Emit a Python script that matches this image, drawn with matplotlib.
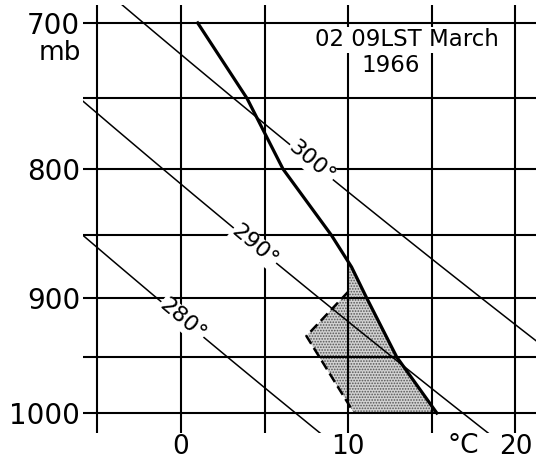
import numpy as np
import matplotlib
matplotlib.use('Agg')
import matplotlib.pyplot as plt
from matplotlib.ticker import NullLocator, NullFormatter

plt.rcParams['font.family'] = ['DejaVu Sans']
plt.rcParams['hatch.linewidth'] = 0.8

# grid levels
p_grid = [700, 750, 800, 850, 900, 950, 1000]
t_grid = [-5, 0, 5, 10, 15, 20]
p_ticks = [700, 800, 900, 1000]
p_tick_labels = ['700', '800', '900', '1000']
t_ticks = [0, 10, 20]
t_tick_labels = ['0', '10', '20']

# dry adiabats (K) and where their labels sit (mb)
thetas = [280, 290, 300]
theta_label_p = [918, 858, 795]
theta_labels = ['280°', '290°', '300°']

# temperature sounding, 02 March 1966 09LST
sound_p = [700, 750, 800, 850, 875, 900, 950, 1000]
sound_t = [1.0, 3.95, 6.1, 9.0, 10.2, 11.1, 12.9, 15.3]

# dashed boundary of the stippled area
dash_p = [895, 932, 1000]
dash_t = [10.0, 7.5, 10.35]

# stippled area
shade_p = [871, 875, 900, 950, 1000, 1000, 932, 895]
shade_t = [10.0, 10.2, 11.1, 12.9, 15.3, 10.35, 7.5, 10.0]

W, H = 546, 461
fig = plt.figure(figsize=(W / 100, H / 100), dpi=100)
# axes box in pixels: x 83..536, y 5..433
ax = fig.add_axes([83 / W, 1 - 433 / H, (536 - 83) / W, (433 - 5) / H])
ax.set_yscale('log')
ax.set_xlim(-5.86, 21.23)
ax.set_ylim(1018.4, 688.6)

for s in ax.spines.values():
    s.set_visible(False)

ax.yaxis.set_minor_locator(NullLocator())
ax.yaxis.set_minor_formatter(NullFormatter())
ax.set_yticks(p_ticks)
ax.set_yticklabels(p_tick_labels, fontsize=20)
ax.set_xticks(t_ticks)
ax.set_xticklabels(t_tick_labels, fontsize=19)
ax.tick_params(axis='y', length=0, pad=2)
ax.tick_params(axis='x', length=0, pad=1)

# grid
for p in p_grid:
    ax.axhline(p, color='black', lw=1.5, zorder=1)
for t in t_grid:
    ax.axvline(t, color='black', lw=1.5, zorder=1)

# stipple
ax.fill(shade_t, shade_p, facecolor='#d2d2d2', hatch='......',
        edgecolor='#555555', linewidth=0, zorder=0.5)

# dry adiabats
pp = np.linspace(680, 1030, 200)
for th, lp, lab in zip(thetas, theta_label_p, theta_labels):
    tt = th * (pp / 1000.0) ** 0.286 - 273.15
    ax.plot(tt, pp, color='black', lw=1.1, zorder=1.5)
    tl = th * (lp / 1000.0) ** 0.286 - 273.15
    ax.text(tl, lp, lab, fontsize=16, rotation=-40, ha='center', va='center',
            rotation_mode='anchor', zorder=3,
            bbox=dict(facecolor='white', edgecolor='none', pad=0.5))

# sounding and dashed line
ax.plot(sound_t, sound_p, color='black', lw=2.3, zorder=2)
ax.plot(dash_t, dash_p, color='black', lw=1.8, ls=(0, (4, 2)), zorder=2)

# title
fig.text(407 / W, 1 - 40 / H, '02 09LST March', fontsize=16.5, ha='center',
         va='center', zorder=5,
         bbox=dict(facecolor='white', edgecolor='none', pad=1))
fig.text(391 / W, 1 - 66 / H, '1966', fontsize=16.5, ha='center', va='center')

fig.text(60 / W, 1 - 53 / H, 'mb', fontsize=19, ha='center', va='center')
fig.text(463 / W, 1 - 446 / H, '°C', fontsize=19, ha='center', va='center')

plt.savefig('out.png', dpi=100)
